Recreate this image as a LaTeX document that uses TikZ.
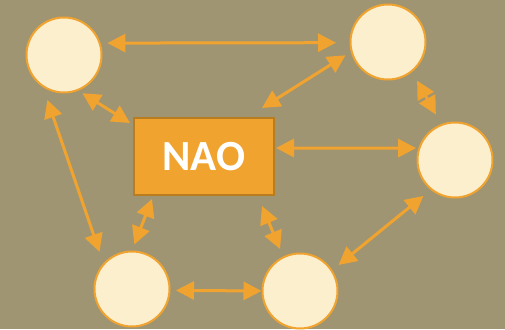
\documentclass[tikz,border=0pt]{standalone}
\usepackage{fontspec}
\newfontfamily\naofont{Carlito}
\usetikzlibrary{arrows.meta}

\definecolor{bgkhaki}{HTML}{A09572}
\definecolor{cream}{HTML}{FCEFCE}
\definecolor{amber}{HTML}{F0A32F}
\definecolor{darkamber}{HTML}{B97C1E}

\tikzset{
    peer/.style={circle, draw=amber, fill=cream, line width=2pt,
        minimum size=75pt, inner sep=0pt},
    robot/.style={rectangle, draw=darkamber, fill=amber, line width=2pt,
        minimum width=140pt, minimum height=77pt, text=white,
        font=\naofont\bfseries\fontsize{43}{43}\selectfont},
    link/.style={draw=amber, line width=3pt,
        {Triangle[length=18pt,width=18pt]}-{Triangle[length=18pt,width=18pt]}}
}

\begin{document}
\begin{tikzpicture}[x=1pt, y=-1pt]
            \fill[bgkhaki] (0,0) rectangle (505,329);
            \useasboundingbox (0,0) rectangle (505,329);
            \node[robot] (N) at (204,156.5) {NAO};
            \node[peer] (A) at (64,55) {};
            \node[peer] (B) at (388,42) {};
            \node[peer] (C) at (455,160) {};
            \node[peer] (D) at (300,291) {};
            \node[peer] (E) at (132,289) {};
            \draw[link, shorten <=6.8pt, shorten >=13.5pt] (A.18.4) to (B.181.1);
            \draw[link, shorten <=6.2pt] (B.195.9) to ([xshift=58pt,yshift=9pt]N.north);
            \draw[link, shorten <=10pt, shorten >=11pt] (B.309) to (C.111.8);
            \draw[link, shorten >=2.3pt] ([xshift=1pt,yshift=8.5pt]N.east) to (C.162.5);
            \draw[link, shorten <=9.5pt, shorten >=8pt] (C.231.9) to (D.33.3);
            \draw[link, shorten >=8pt] ([xshift=58pt,yshift=-10pt]N.south) to (D.116);
            \draw[link, shorten <=5.5pt] (E.-2.7) to (D.180);
            \draw[link, shorten >=6.5pt] ([xshift=-52pt,yshift=-3pt]N.south) to (E.90);
            \draw[link, shorten <=12pt, shorten >=13.3pt] (E.138.3) to (A.237.9);
            \draw[link, shorten <=4.7pt] (A.292.3) to ([xshift=-3pt,yshift=33.5pt]N.west);
        \end{tikzpicture}
\end{document}
